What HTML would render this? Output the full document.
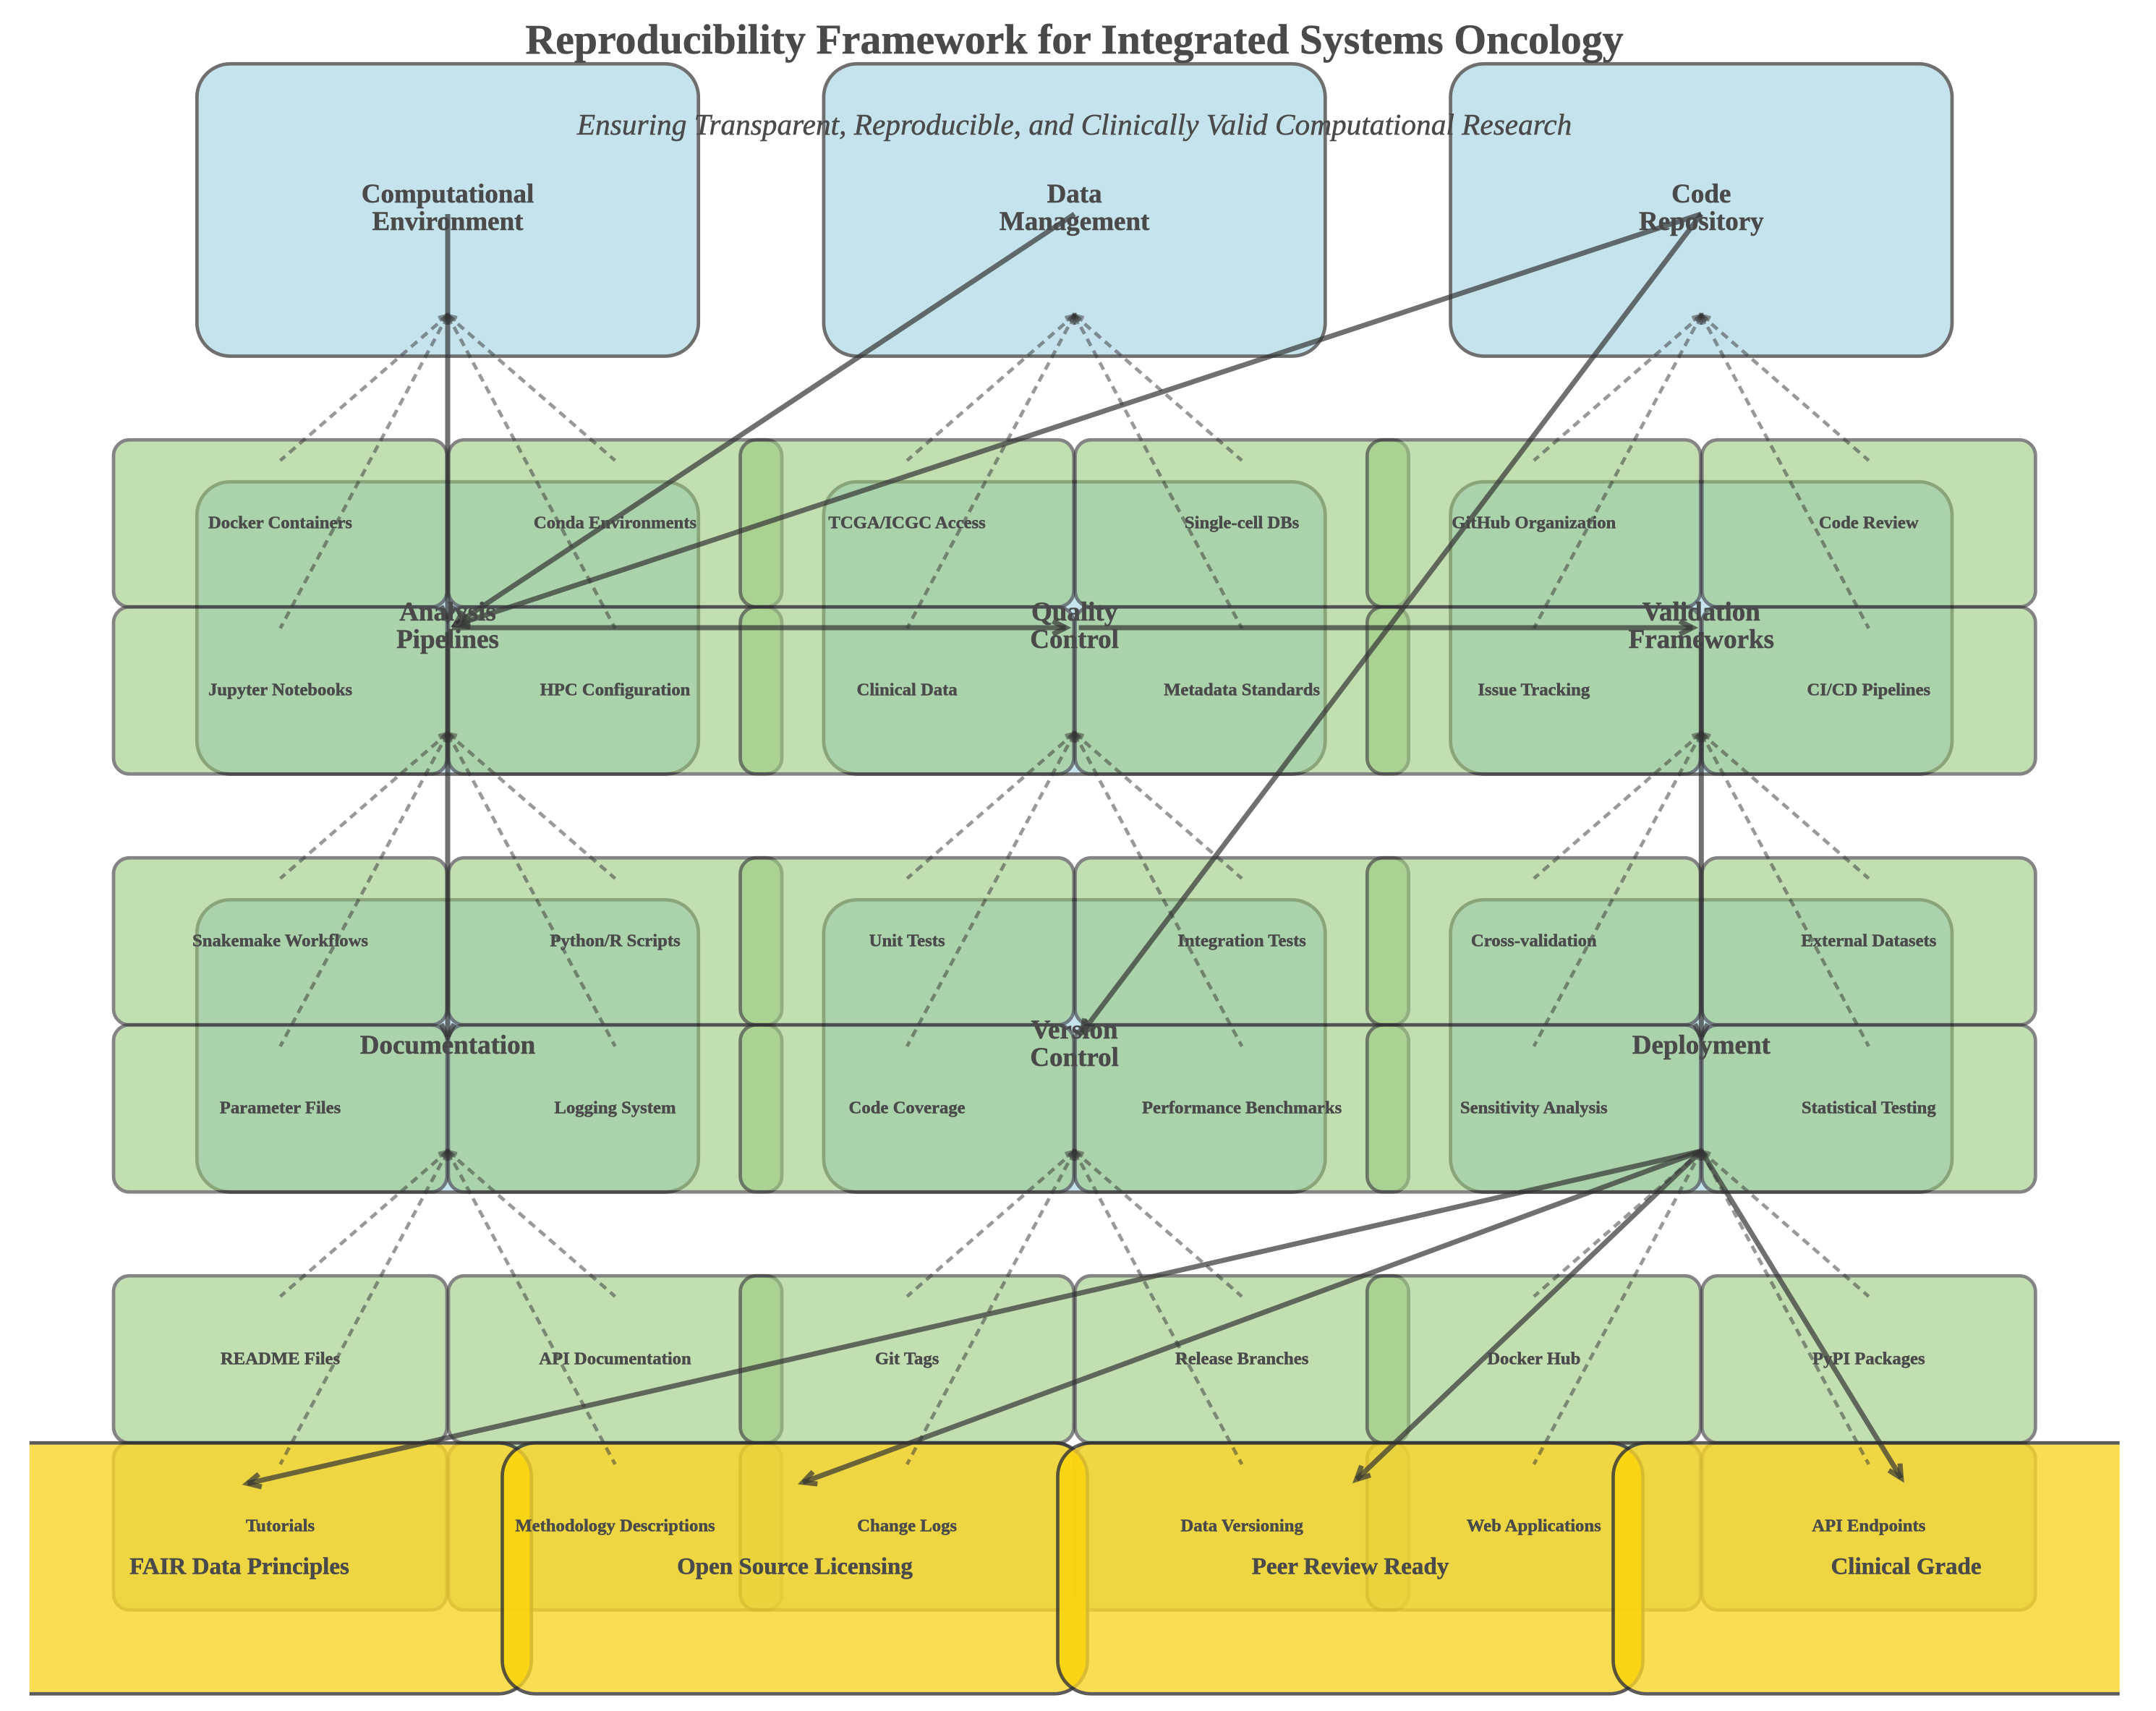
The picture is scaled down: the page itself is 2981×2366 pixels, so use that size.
<!DOCTYPE html>
<html>
<head>
<meta charset="utf-8">
<title>Reproducibility Framework for Integrated Systems Oncology</title>
<style>
html,body{margin:0;padding:0;background:#fff;width:2981px;height:2366px;overflow:hidden}
svg{display:block}
text{font-family:"Liberation Serif",serif;font-weight:bold;fill:#4a4a4a;text-anchor:middle;stroke:#4a4a4a;stroke-width:.5px}
.s{font-size:24.7px}
.n{font-size:37px}
.y{font-size:33px}
</style>
</head>
<body>
<svg xmlns="http://www.w3.org/2000/svg" width="2981" height="2366" viewBox="0 0 2981 2366">
<defs>
<marker id="h" markerUnits="userSpaceOnUse" orient="auto" markerWidth="60" markerHeight="60" refX="30" refY="30" viewBox="0 0 60 60" overflow="visible">
<path d="M12,21 L30,30 L12,39" fill="none" stroke="#333" stroke-opacity=".7" stroke-width="7"/>
</marker>
<marker id="hd" markerUnits="userSpaceOnUse" orient="auto-start-reverse" markerWidth="40" markerHeight="40" refX="20" refY="20" viewBox="0 0 40 40" overflow="visible">
<path d="M8,14 L20,20 L8,26" fill="none" stroke="#333" stroke-opacity=".5" stroke-width="4.2"/>
</marker>
<clipPath id="c"><rect x="40.7" y="1980" width="2890" height="380"/></clipPath>
<clipPath id="y1"><rect x="-71.9" y="1997.7" width="804.2" height="342.2" rx="44" ry="44"/></clipPath>
<clipPath id="y2"><rect x="696.9" y="1997.7" width="804.2" height="342.2" rx="44" ry="44"/></clipPath>
<clipPath id="y3"><rect x="1464.9" y="1997.7" width="804.2" height="342.2" rx="44" ry="44"/></clipPath>
<g id="fan" stroke="#333" stroke-opacity=".5" stroke-width="4.75" stroke-dasharray="11 7.6" fill="none">
<line x1="0" y1="0" x2="-231.5" y2="201.1" marker-start="url(#hd)"/>
<line x1="0" y1="0" x2="231.5" y2="201.1" marker-start="url(#hd)"/>
<line x1="0" y1="0" x2="-231.5" y2="433.2" marker-start="url(#hd)"/>
<line x1="0" y1="0" x2="231.5" y2="433.2" marker-start="url(#hd)"/>
</g>
<g id="gc" fill="#9bca80" stroke="#333" stroke-width="4.75">
<rect x="-462" y="0" width="461" height="231" rx="22" ry="22" opacity=".6"/>
<rect x="1" y="0" width="461" height="231" rx="22" ry="22" opacity=".6"/>
<rect x="-462" y="231" width="461" height="231" rx="22" ry="22" opacity=".6"/>
<rect x="1" y="231" width="461" height="231" rx="22" ry="22" opacity=".6"/>
</g>
<rect id="bb" x="-346.7" y="0" width="693.4" height="404.2" rx="46" ry="46" fill="#add8e6" stroke="#333" stroke-width="4.75" opacity=".7"/>
</defs>

<!-- parent nodes -->
<use href="#bb" transform="translate(619,88.3)"/>
<use href="#bb" transform="translate(1485.6,88.3)"/>
<use href="#bb" transform="translate(2352.3,88.3)"/>
<use href="#bb" transform="translate(619,666.3)"/>
<use href="#bb" transform="translate(1485.6,666.3)"/>
<use href="#bb" transform="translate(2352.3,666.3)"/>
<use href="#bb" transform="translate(619,1244.3)"/>
<use href="#bb" transform="translate(1485.6,1244.3)"/>
<use href="#bb" transform="translate(2352.3,1244.3)"/>

<!-- child nodes -->
<use href="#gc" transform="translate(619,608.3)"/>
<use href="#gc" transform="translate(1485.6,608.3)"/>
<use href="#gc" transform="translate(2352.3,608.3)"/>
<use href="#gc" transform="translate(619,1186.3)"/>
<use href="#gc" transform="translate(1485.6,1186.3)"/>
<use href="#gc" transform="translate(2352.3,1186.3)"/>
<use href="#gc" transform="translate(619,1764.3)"/>
<use href="#gc" transform="translate(1485.6,1764.3)"/>
<use href="#gc" transform="translate(2352.3,1764.3)"/>

<!-- outcome nodes -->
<g clip-path="url(#c)" fill="#fad528" stroke="#333" stroke-width="4.75">
<rect x="-74.3" y="1995.3" width="809" height="347" rx="46" ry="46" opacity=".8"/>
<rect x="694.5" y="1995.3" width="809" height="347" rx="46" ry="46" opacity=".8"/>
<rect x="1462.5" y="1995.3" width="809" height="347" rx="46" ry="46" opacity=".8"/>
<rect x="2230.5" y="1995.3" width="809" height="347" rx="46" ry="46" opacity=".8"/>
</g>
<!-- saturated overlap strips between outcome nodes -->
<g fill="#f9d500" fill-opacity=".55">
<g clip-path="url(#y1)"><rect x="696.9" y="1997.7" width="804.2" height="342.2" rx="44" ry="44"/></g>
<g clip-path="url(#y2)"><rect x="1464.9" y="1997.7" width="804.2" height="342.2" rx="44" ry="44"/></g>
<g clip-path="url(#y3)"><rect x="2232.9" y="1997.7" width="804.2" height="342.2" rx="44" ry="44"/></g>
</g>

<!-- dashed connectors -->
<use href="#fan" transform="translate(619,435.7)"/>
<use href="#fan" transform="translate(1485.6,435.7)"/>
<use href="#fan" transform="translate(2352.3,435.7)"/>
<use href="#fan" transform="translate(619,1013.7)"/>
<use href="#fan" transform="translate(1485.6,1013.7)"/>
<use href="#fan" transform="translate(2352.3,1013.7)"/>
<use href="#fan" transform="translate(619,1591.7)"/>
<use href="#fan" transform="translate(1485.6,1591.7)"/>
<use href="#fan" transform="translate(2352.3,1591.7)"/>

<!-- solid connectors -->
<g stroke="#333" stroke-opacity=".7" stroke-width="7" fill="none">
<line x1="619" y1="296" x2="619" y2="856" marker-end="url(#h)"/>
<line x1="1485.6" y1="296" x2="630" y2="863" marker-end="url(#h)"/>
<line x1="2352.3" y1="296" x2="630.5" y2="864" marker-end="url(#h)"/>
<line x1="2352.3" y1="296" x2="1496" y2="1428" marker-end="url(#h)"/>
<line x1="625" y1="868" x2="1473.6" y2="868" marker-end="url(#h)"/>
<line x1="1491.6" y1="868" x2="2340.3" y2="868" marker-end="url(#h)"/>
<line x1="619" y1="874" x2="619" y2="1434" marker-end="url(#h)"/>
<line x1="2352.3" y1="874" x2="2352.3" y2="1434" marker-end="url(#h)"/>
<line x1="2352.3" y1="1591.7" x2="342.3" y2="2051.3" marker-end="url(#h)"/>
<line x1="2352.3" y1="1591.7" x2="1110.3" y2="2049.8" marker-end="url(#h)"/>
<line x1="2352.3" y1="1591.7" x2="1875.7" y2="2045.7" marker-end="url(#h)"/>
<line x1="2352.3" y1="1591.7" x2="2628.7" y2="2043.8" marker-end="url(#h)"/>
</g>

<!-- title -->
<text x="1485.6" y="74" font-size="57.8">Reproducibility Framework for Integrated Systems Oncology</text>
<text x="1485.6" y="186" font-size="41.3" style="font-weight:normal;font-style:italic">Ensuring Transparent, Reproducible, and Clinically Valid Computational Research</text>

<!-- parent labels -->
<text class="n" x="619" y="280">Computational</text>
<text class="n" x="619" y="318">Environment</text>
<text class="n" x="1485.6" y="280">Data</text>
<text class="n" x="1485.6" y="318">Management</text>
<text class="n" x="2352.3" y="280">Code</text>
<text class="n" x="2352.3" y="318">Repository</text>
<text class="n" x="619" y="858">Analysis</text>
<text class="n" x="619" y="896">Pipelines</text>
<text class="n" x="1485.6" y="858">Quality</text>
<text class="n" x="1485.6" y="896">Control</text>
<text class="n" x="2352.3" y="858">Validation</text>
<text class="n" x="2352.3" y="896">Frameworks</text>
<text class="n" x="619" y="1457">Documentation</text>
<text class="n" x="1485.6" y="1436">Version</text>
<text class="n" x="1485.6" y="1474">Control</text>
<text class="n" x="2352.3" y="1457">Deployment</text>

<!-- child labels -->
<text class="s" x="387.5" y="730.3">Docker Containers</text>
<text class="s" x="850.5" y="730.3">Conda Environments</text>
<text class="s" x="387.5" y="961.3">Jupyter Notebooks</text>
<text class="s" x="850.5" y="961.3">HPC Configuration</text>
<text class="s" x="1254.1" y="730.3">TCGA/ICGC Access</text>
<text class="s" x="1717.1" y="730.3">Single-cell DBs</text>
<text class="s" x="1254.1" y="961.3">Clinical Data</text>
<text class="s" x="1717.1" y="961.3">Metadata Standards</text>
<text class="s" x="2120.8" y="730.3">GitHub Organization</text>
<text class="s" x="2583.8" y="730.3">Code Review</text>
<text class="s" x="2120.8" y="961.3">Issue Tracking</text>
<text class="s" x="2583.8" y="961.3">CI/CD Pipelines</text>

<text class="s" x="387.5" y="1308.3">Snakemake Workflows</text>
<text class="s" x="850.5" y="1308.3">Python/R Scripts</text>
<text class="s" x="387.5" y="1539.3">Parameter Files</text>
<text class="s" x="850.5" y="1539.3">Logging System</text>
<text class="s" x="1254.1" y="1308.3">Unit Tests</text>
<text class="s" x="1717.1" y="1308.3">Integration Tests</text>
<text class="s" x="1254.1" y="1539.3">Code Coverage</text>
<text class="s" x="1717.1" y="1539.3">Performance Benchmarks</text>
<text class="s" x="2120.8" y="1308.3">Cross-validation</text>
<text class="s" x="2583.8" y="1308.3">External Datasets</text>
<text class="s" x="2120.8" y="1539.3">Sensitivity Analysis</text>
<text class="s" x="2583.8" y="1539.3">Statistical Testing</text>

<text class="s" x="387.5" y="1886.3">README Files</text>
<text class="s" x="850.5" y="1886.3">API Documentation</text>
<text class="s" x="387.5" y="2117.3">Tutorials</text>
<text class="s" x="850.5" y="2117.3">Methodology Descriptions</text>
<text class="s" x="1254.1" y="1886.3">Git Tags</text>
<text class="s" x="1717.1" y="1886.3">Release Branches</text>
<text class="s" x="1254.1" y="2117.3">Change Logs</text>
<text class="s" x="1717.1" y="2117.3">Data Versioning</text>
<text class="s" x="2120.8" y="1886.3">Docker Hub</text>
<text class="s" x="2583.8" y="1886.3">PyPI Packages</text>
<text class="s" x="2120.8" y="2117.3">Web Applications</text>
<text class="s" x="2583.8" y="2117.3">API Endpoints</text>

<!-- outcome labels -->
<text class="y" x="331" y="2176.6">FAIR Data Principles</text>
<text class="y" x="1099" y="2176.6">Open Source Licensing</text>
<text class="y" x="1867" y="2176.6">Peer Review Ready</text>
<text class="y" x="2635.5" y="2176.6">Clinical Grade</text>
</svg>
</body>
</html>
